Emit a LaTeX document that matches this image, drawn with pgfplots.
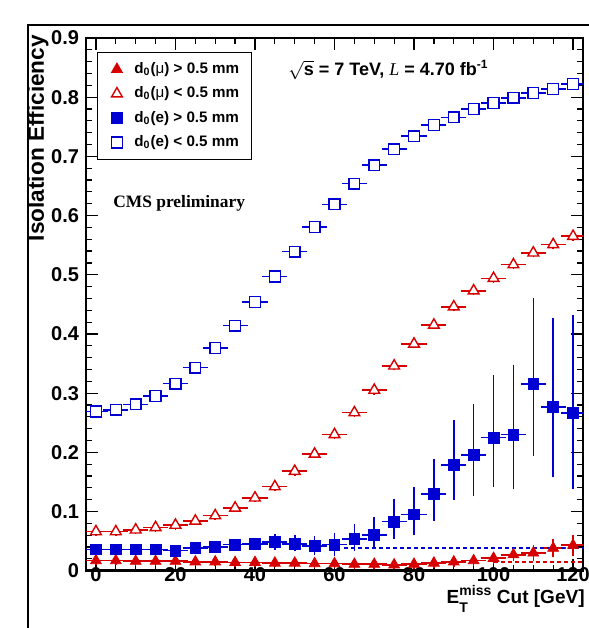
\documentclass[border=0pt]{standalone}
\usepackage{fontspec}
\setmainfont{Liberation Sans}
\newfontfamily\serif{Liberation Serif}
\usepackage{pgfplots}
\pgfplotsset{compat=1.18}
\usepackage{pgfplotstable}

\definecolor{rred}{RGB}{215,0,0}
\definecolor{rblue}{RGB}{0,0,210}

% x  y  ex  ep  em
\pgfplotstableread{
x y ex ep em
0 0.017 2.5 0.003 0.003
5 0.017 2.5 0.003 0.003
10 0.016 2.5 0.003 0.003
15 0.016 2.5 0.003 0.003
20 0.016 2.5 0.003 0.003
25 0.015 2.5 0.003 0.003
30 0.015 2.5 0.003 0.003
35 0.014 2.5 0.003 0.003
40 0.014 2.5 0.003 0.003
45 0.013 2.5 0.003 0.003
50 0.013 2.5 0.003 0.003
55 0.012 2.5 0.003 0.003
60 0.012 2.5 0.003 0.003
65 0.011 2.5 0.003 0.003
70 0.011 2.5 0.003 0.003
75 0.010 2.5 0.003 0.003
80 0.011 2.5 0.003 0.003
85 0.013 2.5 0.004 0.004
90 0.015 2.5 0.004 0.004
95 0.017 2.5 0.005 0.005
100 0.021 2.5 0.006 0.006
105 0.027 2.5 0.007 0.007
110 0.030 2.5 0.009 0.009
115 0.038 2.5 0.011 0.011
120 0.043 2.5 0.013 0.013
}\mufar

\pgfplotstableread{
x y ex ep em
0 0.066 2.5 0.003 0.003
5 0.066 2.5 0.003 0.003
10 0.069 2.5 0.003 0.003
15 0.073 2.5 0.003 0.003
20 0.077 2.5 0.003 0.003
25 0.084 2.5 0.003 0.003
30 0.093 2.5 0.003 0.003
35 0.106 2.5 0.003 0.003
40 0.123 2.5 0.003 0.003
45 0.142 2.5 0.003 0.003
50 0.168 2.5 0.003 0.003
55 0.197 2.5 0.003 0.003
60 0.230 2.5 0.003 0.003
65 0.267 2.5 0.003 0.003
70 0.305 2.5 0.003 0.003
75 0.346 2.5 0.003 0.003
80 0.383 2.5 0.003 0.003
85 0.415 2.5 0.003 0.003
90 0.446 2.5 0.003 0.003
95 0.473 2.5 0.003 0.003
100 0.494 2.5 0.003 0.003
105 0.517 2.5 0.003 0.003
110 0.537 2.5 0.003 0.003
115 0.551 2.5 0.003 0.003
120 0.565 2.5 0.003 0.003
}\munear

\pgfplotstableread{
x y ex ep em
0 0.036 2.5 0.004 0.004
5 0.036 2.5 0.004 0.004
10 0.036 2.5 0.004 0.004
15 0.036 2.5 0.004 0.004
20 0.034 2.5 0.004 0.004
25 0.038 2.5 0.004 0.004
30 0.040 2.5 0.004 0.004
35 0.044 2.5 0.004 0.004
40 0.045 2.5 0.005 0.005
45 0.048 2.5 0.010 0.008
50 0.045 2.5 0.011 0.008
55 0.042 2.5 0.013 0.011
60 0.044 2.5 0.016 0.015
65 0.054 2.5 0.021 0.016
70 0.060 2.5 0.026 0.019
75 0.083 2.5 0.034 0.025
80 0.095 2.5 0.042 0.031
85 0.130 2.5 0.054 0.042
90 0.179 2.5 0.072 0.056
95 0.195 2.5 0.082 0.065
100 0.225 2.5 0.101 0.079
105 0.230 2.5 0.113 0.088
110 0.315 2.5 0.141 0.117
115 0.277 2.5 0.145 0.114
120 0.266 2.5 0.162 0.123
}\efar

\pgfplotstableread{
x y ex ep em
0 0.269 2.5 0.003 0.003
5 0.272 2.5 0.003 0.003
10 0.281 2.5 0.003 0.003
15 0.295 2.5 0.003 0.003
20 0.316 2.5 0.003 0.003
25 0.343 2.5 0.003 0.003
30 0.376 2.5 0.003 0.003
35 0.414 2.5 0.003 0.003
40 0.454 2.5 0.003 0.003
45 0.497 2.5 0.003 0.003
50 0.539 2.5 0.003 0.003
55 0.581 2.5 0.003 0.003
60 0.619 2.5 0.003 0.003
65 0.654 2.5 0.003 0.003
70 0.685 2.5 0.003 0.003
75 0.712 2.5 0.003 0.003
80 0.734 2.5 0.003 0.003
85 0.753 2.5 0.003 0.003
90 0.766 2.5 0.003 0.003
95 0.780 2.5 0.003 0.003
100 0.790 2.5 0.003 0.003
105 0.799 2.5 0.003 0.003
110 0.807 2.5 0.003 0.003
115 0.814 2.5 0.003 0.003
120 0.822 2.5 0.003 0.003
}\enear

\begin{document}
\begin{tikzpicture}
\begin{axis}[
    scale only axis,
    width=248.5pt,
    height=266.35pt,
    xmin=-2.5, xmax=122.5,
    ymin=0, ymax=0.9,
    xtick={0,20,...,120},
    ytick={0,0.1,...,0.9},
    minor x tick num=3,
    minor y tick num=4,
    tick pos=both,
    tick align=inside,
    major tick length=6pt,
    minor tick length=3pt,
    axis line style={line width=1.3pt},
    every tick/.style={black, line width=0.6pt},
    ticklabel style={font=\bfseries\fontsize{10}{12}\selectfont},
    xticklabel style={yshift=5pt},
    /pgf/number format/assume math mode=true,
    yticklabel style={/pgf/number format/fixed, /pgf/number format/precision=1},
    legend style={at={(0.022,0.974)}, anchor=north west, draw=black,
        line width=0.5pt, font=\bfseries\fontsize{7.6}{9}\selectfont,
        row sep=1.2pt, inner xsep=4pt, inner ysep=3pt},
    legend cell align=left,
    legend image code/.code={\path (0pt,0pt) (12pt,0pt);
        \draw plot coordinates {(5.5pt,0pt)};},
    error bars/x dir=both, error bars/x explicit,
    error bars/y dir=both, error bars/y explicit,
    error bars/error mark options={mark size=1.3pt, line width=0.8pt},
]
\addplot[only marks, mark=triangle*, mark size=3.1pt, color=rred,
    mark options={fill=rred},
    error bars/error bar style={rred, line width=0.8pt}]
    table[x=x, y=y, x error=ex, y error plus=ep, y error minus=em] {\mufar};
\addlegendentry{d\textsubscript{0}({\mdseries μ}) > 0.5 mm}

\addplot[only marks, mark=triangle*, mark size=3.1pt, color=rred,
    mark options={fill=white, line width=0.7pt},
    error bars/error bar style={rred, line width=0.8pt}]
    table[x=x, y=y, x error=ex, y error plus=ep, y error minus=em] {\munear};
\addlegendentry{d\textsubscript{0}({\mdseries μ}) < 0.5 mm}

\addplot[only marks, mark=square*, mark size=2.7pt, color=rblue,
    mark options={fill=rblue},
    error bars/error bar style={rblue, line width=0.8pt}]
    table[x=x, y=y, x error=ex, y error plus=ep, y error minus=em] {\efar};
\addlegendentry{d\textsubscript{0}(e) > 0.5 mm}

\addplot[only marks, mark=square*, mark size=2.7pt, color=rblue,
    mark options={fill=white, line width=0.7pt},
    error bars/error bar style={rblue, line width=0.8pt}]
    table[x=x, y=y, x error=ex, y error plus=ep, y error minus=em] {\enear};
\addlegendentry{d\textsubscript{0}(e) < 0.5 mm}

% constant lines
\addplot[rblue, line width=0.8pt, dash pattern=on 2pt off 1.5pt, forget plot,
    error bars/x dir=none, error bars/y dir=none]
    coordinates {(62.5,0.038) (122.5,0.038)};
\addplot[rred, line width=0.8pt, dash pattern=on 2pt off 1.5pt, forget plot,
    error bars/x dir=none, error bars/y dir=none]
    coordinates {(100,0.015) (122.5,0.015)};

\coordinate (sw) at (rel axis cs:0,0);
\end{axis}

\node[inner sep=0pt, anchor=base west, font=\bfseries\fontsize{9}{11}\selectfont]
    at ([shift={(101pt,247.35pt)}]sw)
    {$\sqrt{\mbox{\bfseries s}}$ = 7 TeV, {\serif\mdseries\itshape L} = 4.70 fb\textsuperscript{-1}};
\node[inner sep=0pt, anchor=base west, font=\serif\bfseries\fontsize{8.7}{10}\selectfont]
    at ([shift={(13.5pt,181.5pt)}]sw) {CMS preliminary};
\node[inner sep=0pt, rotate=90, anchor=east, font=\bfseries\fontsize{11.3}{13}\selectfont]
    at ([shift={(-24pt,268pt)}]sw) {Isolation Efficiency};
\node[inner sep=0pt, anchor=base east, font=\bfseries\fontsize{9.5}{11}\selectfont]
    at ([shift={(249.5pt,-16.3pt)}]sw)
    {E\makebox[1.7em][l]{\rlap{\raisebox{0.8ex}{\scriptsize miss}}\raisebox{-0.95ex}{\scriptsize T}} Cut [GeV]};

% canvas frame
\draw[line width=0.75pt] ([shift={(-29pt,-28.65pt)}]sw) -- ([shift={(-29pt,272.85pt)}]sw)
    -- ([shift={(251.5pt,272.85pt)}]sw);

\pgfresetboundingbox
\useasboundingbox ([shift={(-43pt,-28.65pt)}]sw) rectangle ([shift={(251.5pt,285.35pt)}]sw);
\end{tikzpicture}
\end{document}
